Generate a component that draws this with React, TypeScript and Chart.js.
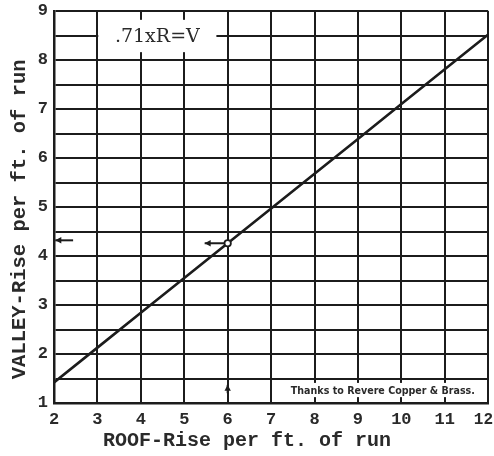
import React, { useEffect, useRef } from 'react';
import { Chart, registerables } from 'chart.js';

Chart.register(...registerables);

// ---- data ----
const roofRise = [2, 3, 4, 5, 6, 7, 8, 9, 10, 11, 12];
const valleyRise = [1.42, 2.13, 2.84, 3.55, 4.26, 4.97, 5.68, 6.39, 7.1, 7.81, 8.52];
const exampleRoof = [6];
const exampleValley = [4.26];
const xTickValues = [2, 3, 4, 5, 6, 7, 8, 9, 10, 11, 12];
const yTickValues = [1, 2, 3, 4, 5, 6, 7, 8, 9];
const xTitle = 'ROOF-Rise per ft. of run    ';
const yTitle = 'VALLEY-Rise per ft. of run  ';
const formulaLabel = '.71xR=V';
const creditLabel = 'Thanks to Revere Copper & Brass.';
// label boxes in data units: [xMin, xMax, yMin, yMax]
const formulaBox = [3.02, 5.74, 8.16, 8.82];
const creditBox = [7.04, 11.97, 1.12, 1.41];
// arrows in data units: [xFrom, yFrom, xTo, yTo]
const arrowLines = [
  [5.92, 4.26, 5.47, 4.26],
  [2.44, 4.32, 2.03, 4.32],
  [6, 1.2, 6, 1.37],
];

const INK = '#1c1c1c';
const LAST_X = xTickValues[xTickValues.length - 1];

const overlayPlugin = {
  id: 'overlay',
  afterDraw(chart: any) {
    const { ctx, scales } = chart;
    const xs = scales.x;
    const ys = scales.y;
    const box = (b: number[]) => {
      const l = xs.getPixelForValue(b[0]);
      const r = xs.getPixelForValue(b[1]);
      const t = ys.getPixelForValue(b[3]);
      const bt = ys.getPixelForValue(b[2]);
      return { l, r, t, bt };
    };
    ctx.save();
    // formula box
    const f = box(formulaBox);
    ctx.fillStyle = '#ffffff';
    ctx.fillRect(f.l, f.t, f.r - f.l, f.bt - f.t);
    ctx.fillStyle = '#2a2a2a';
    ctx.font = '19px "DejaVu Serif"';
    ctx.textAlign = 'center';
    ctx.textBaseline = 'middle';
    ctx.fillText(formulaLabel, (f.l + f.r) / 2, (f.t + f.bt) / 2 + 1);
    // credit box
    const c = box(creditBox);
    ctx.fillStyle = '#ffffff';
    ctx.fillRect(c.l, c.t, c.r - c.l, c.bt - c.t);
    ctx.fillStyle = '#2a2a2a';
    ctx.font = 'bold 11px "DejaVu Sans"';
    const target = (c.r - c.l) * 0.86;
    const w = ctx.measureText(creditLabel).width;
    const sx = target / w;
    ctx.translate((c.l + c.r) / 2 + 3, (c.t + c.bt) / 2 + 1);
    ctx.scale(sx, 1);
    ctx.fillText(creditLabel, 0, 0);
    ctx.restore();

    // arrows
    ctx.save();
    ctx.strokeStyle = INK;
    ctx.fillStyle = INK;
    ctx.lineWidth = 2;
    for (const a of arrowLines) {
      const x1 = xs.getPixelForValue(a[0]);
      const y1 = ys.getPixelForValue(a[1]);
      const x2 = xs.getPixelForValue(a[2]);
      const y2 = ys.getPixelForValue(a[3]);
      ctx.beginPath();
      ctx.moveTo(x1, y1);
      ctx.lineTo(x2, y2);
      ctx.stroke();
      const ang = Math.atan2(y2 - y1, x2 - x1);
      const hl = 6;
      const hw = 3.2;
      ctx.beginPath();
      ctx.moveTo(x2, y2);
      ctx.lineTo(x2 - hl * Math.cos(ang) + hw * Math.sin(ang), y2 - hl * Math.sin(ang) - hw * Math.cos(ang));
      ctx.lineTo(x2 - hl * Math.cos(ang) - hw * Math.sin(ang), y2 - hl * Math.sin(ang) + hw * Math.cos(ang));
      ctx.closePath();
      ctx.fill();
    }
    ctx.restore();
  },
};

export default function App() {
  const ref = useRef<HTMLCanvasElement | null>(null);
  useEffect(() => {
    if (!ref.current) return;
    const chart = new Chart(ref.current, {
      type: 'scatter',
      data: {
        datasets: [
          {
            data: roofRise.map((r, i) => ({ x: r, y: valleyRise[i] })),
            showLine: true,
            borderColor: INK,
            borderWidth: 2.6,
            pointRadius: 0,
            order: 2,
          },
          {
            data: exampleRoof.map((r, i) => ({ x: r, y: exampleValley[i] })),
            showLine: false,
            pointRadius: 3.2,
            pointBackgroundColor: '#ffffff',
            pointBorderColor: INK,
            pointBorderWidth: 1.8,
            order: 1,
          },
        ],
      },
      options: {
        responsive: false,
        animation: false,
        layout: { padding: { top: 11, right: 5, left: 0, bottom: 0 } },
        plugins: {
          legend: { display: false },
          tooltip: { enabled: false },
        },
        scales: {
          x: {
            type: 'linear',
            min: 2,
            max: 12,
            afterFit: (s: any) => {
              s.height = 53;
              s.paddingLeft = 0;
              s.paddingRight = 0;
            },
            afterBuildTicks: (s: any) => { s.ticks = xTickValues.map((v) => ({ value: v })); },
            ticks: {
              color: '#2a2a2a',
              font: (ctx: any) => ({
                family: '"Liberation Mono"',
                size: ctx.tick && ctx.tick.value === LAST_X ? 16 : 17,
                weight: 'bold',
              }),
              padding: 7,
              autoSkip: false,
              maxRotation: 0,
              callback: (v: any) => (Number(v) === LAST_X ? String(v) + ' ' : String(v)),
            },
            grid: { color: INK, lineWidth: 2, drawTicks: false },
            border: { color: INK, width: 2.5 },
            title: {
              display: true,
              text: xTitle,
              color: '#2a2a2a',
              font: { family: '"Liberation Mono"', size: 20, weight: 'bold' },
              padding: { top: 0, bottom: 3 },
            },
          },
          y: {
            type: 'linear',
            min: 1,
            max: 9,
            afterFit: (s: any) => {
              s.width = 54;
              s.paddingTop = 0;
              s.paddingBottom = 0;
            },
            ticks: {
              stepSize: 0.5,
              color: '#2a2a2a',
              font: { family: '"Liberation Mono"', size: 17, weight: 'bold' },
              padding: 6,
              autoSkip: false,
              callback: (v: any) => (yTickValues.includes(Number(v)) ? String(v) : ''),
            },
            grid: { color: INK, lineWidth: 2, drawTicks: false },
            border: { color: INK, width: 2.5 },
            title: {
              display: true,
              text: yTitle,
              color: '#2a2a2a',
              font: { family: '"Liberation Mono"', size: 20.5, weight: 'bold' },
              padding: { top: 8, bottom: 0 },
            },
          },
        },
      },
      plugins: [overlayPlugin],
    } as any);
    return () => chart.destroy();
  }, []);
  return (
    <div style={{ position: 'fixed', left: 0, top: 0, width: 494, height: 456, background: '#ffffff' }}>
      <canvas ref={ref} width={494} height={456} />
    </div>
  );
}
